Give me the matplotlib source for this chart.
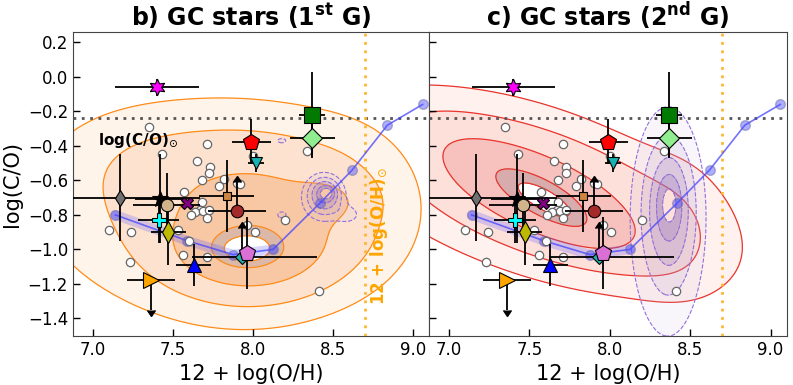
import numpy as np
import matplotlib
matplotlib.use("Agg")
import matplotlib.pyplot as plt
from matplotlib.colors import to_rgba

# ---------------- data ----------------
# open circles (GC / literature sample)
circ_x = [7.35, 7.43, 7.71, 7.65, 7.73, 7.725, 7.68, 7.79, 7.82, 7.90, 7.92, 7.57,
          7.68, 7.67, 7.64, 7.61, 7.69, 7.725, 7.71, 7.96, 8.01, 7.10, 7.24, 7.53,
          7.60, 7.56, 7.71, 8.20, 8.41, 7.23, 8.00, 8.34]
circ_y = [-0.29, -0.45, -0.39, -0.49, -0.52, -0.56, -0.60, -0.63, -0.59, -0.615, -0.62, -0.665,
          -0.725, -0.77, -0.785, -0.80, -0.775, -0.77, -0.82, -0.86, -0.90, -0.89, -0.90, -0.885,
          -0.95, -1.03, -1.045, -0.83, -1.24, -1.07, -0.46, -0.43]

# individual objects with error bars
obj_x = [7.40, 8.37, 8.37, 7.99, 8.02, 7.17, 7.42, 7.46, 7.585, 7.835, 7.90, 7.41, 7.47, 7.63, 7.93, 7.96, 7.36]
obj_y = [-0.06, -0.22, -0.355, -0.375, -0.50, -0.70, -0.705, -0.74, -0.73, -0.69, -0.78, -0.83, -0.90, -1.09, -1.045, -1.02, -1.18]
obj_xerr_lo = [0.26, 0.08, 0.14, 0.12, 0.05, 0.50, 0.16, 0.21, 0.0, 0.17, 0.18, 0.13, 0.11, 0.11, 0.31, 0.0, 0.15]
obj_xerr_hi = [0.26, 0.08, 0.14, 0.12, 0.05, 0.50, 0.16, 0.21, 0.0, 0.17, 0.18, 0.13, 0.11, 0.11, 0.47, 0.0, 0.15]
obj_yerr = [0.05, 0.25, 0.11, 0.13, 0.05, 0.25, 0.26, 0.18, 0.0, 0.21, 0.17, 0.13, 0.19, 0.12, 0.17, 0.21, 0.17]
obj_lim = ['', '', '', '', '', '', '', '', '', '', 'lo', '', '', '', 'lo', '', 'up']
obj_marker = [(6, 1, 0), 's', 'D', 'p', 'v', 'd', '*', 'o', 'X', 's', 'o', 'P', 'd', '^', 'D', 'p', '>']
obj_color = ['#ff00ff', '#007a00', '#90ee90', '#ff0000', '#16b3b3', '#707070', '#000000', '#d2b48c',
             '#800080', '#cd853f', '#a52a2a', '#00ffff', '#bdb800', '#0000ff', '#20b2aa', '#da70d6', '#ffa500']
obj_size = [12, 11, 10, 12, 9, 8, 12, 9, 9, 6, 9, 10, 11, 10, 7, 12, 11]

# chemical evolution model track
model_x = [7.14, 7.59, 7.875, 8.125, 8.42, 8.62, 8.84, 9.06]
model_y = [-0.80, -0.95, -1.03, -1.00, -0.73, -0.54, -0.28, -0.16]
model_band_n = 4

solar_co = -0.24
solar_oh = 8.70

# density components: (cx, cy, sigma_major, sigma_minor, angle_deg, weight)
dens_g1 = [(7.96, -1.00, 0.11, 0.055, 0, 1.0),
           (7.97, -1.00, 0.25, 0.13, 0, 0.6),
           (8.00, -0.84, 0.38, 0.27, 0, 0.4),
           (8.47, -0.72, 0.14, 0.08, 0, 0.2),
           (7.80, -0.76, 0.75, 0.40, 0, 0.2),
           (7.30, -0.50, 0.35, 0.20, 0, 0.06),
           (8.60, -0.72, 0.25, 0.28, 0, 0.06)]
lev_g1 = [0.07, 0.17, 0.42, 0.97, 1.42, 10]

dens_p1 = [(8.46, -0.675, 0.025, 0.02, 0, 1.0),
           (8.45, -0.68, 0.05, 0.05, 0, 0.5),
           (8.44, -0.70, 0.09, 0.09, 0, 0.3),
           (8.60, -0.80, 0.06, 0.04, 0, 0.12),
           (8.18, -0.37, 0.03, 0.015, 0, 0.14),
           (8.18, -0.80, 0.03, 0.02, 0, 0.14)]
lev_p1 = [0.1, 0.2, 0.35, 0.6, 1.0, 10]

dens_g2 = [(7.60, -0.72, 0.14, 0.045, -28, 1.0),
           (7.55, -0.68, 0.38, 0.12, -25, 0.6),
           (7.60, -0.68, 0.65, 0.25, -18, 0.35),
           (7.40, -0.62, 0.90, 0.34, -15, 0.12),
           (8.45, -0.85, 0.20, 0.30, 0, 0.05)]
lev_g2 = [0.09, 0.2, 0.45, 0.93, 1.42, 10]

dens_p2 = [(8.37, -0.74, 0.035, 0.08, 0, 1.0),
           (8.37, -0.76, 0.08, 0.20, 0, 0.6),
           (8.36, -0.85, 0.14, 0.40, 0, 0.3)]
lev_p2 = [0.08, 0.2, 0.4, 0.7, 1.3, 10]

# ---------------- helpers ----------------
gx = np.linspace(6.5, 9.3, 500)
gy = np.linspace(-1.9, 0.5, 500)
GX, GY = np.meshgrid(gx, gy)


def density(comps):
    Z = np.zeros_like(GX)
    for cx, cy, sa, sb, ang, w in comps:
        t = np.deg2rad(ang)
        dx, dy = GX - cx, GY - cy
        u = dx * np.cos(t) + dy * np.sin(t)
        v = -dx * np.sin(t) + dy * np.cos(t)
        Z += w * np.exp(-0.5 * ((u / sa) ** 2 + (v / sb) ** 2))
    return Z


def draw_density(ax, comps, levels, fills, line_color, ls, lw, z):
    Z = density(comps)
    ax.contourf(GX, GY, Z, levels=levels, colors=fills, zorder=z)
    ax.contour(GX, GY, Z, levels=levels[:-1], colors=line_color, linestyles=ls,
               linewidths=lw, zorder=z + 0.1)


plt.rcParams['font.family'] = ['DejaVu Sans']
fig = plt.figure(figsize=(7.93, 3.85), dpi=100)
ax1 = fig.add_axes([0.092, 0.128, 0.449, 0.789])
ax2 = fig.add_axes([0.541, 0.128, 0.451, 0.789], sharey=ax1)

orange_fills = ['#fff4ea', '#fde3cf', '#f8c8a5', '#dbb8a8', 'none']
red_fills = ['#fff1ee', '#fde0da', '#f7c2bd', '#d8acac', 'none']
purple_fills = [to_rgba('#c9b8e0', 0.12), to_rgba('#b9a3d6', 0.25), to_rgba('#a58ac8', 0.4),
                to_rgba('#9a7dc0', 0.55), 'none']

draw_density(ax1, dens_g1, lev_g1, orange_fills, '#ff8c1a', 'solid', 0.9, 1)
draw_density(ax1, dens_p1, lev_p1, purple_fills, '#9370db', 'dashed', 0.8, 2)
draw_density(ax2, dens_g2, lev_g2, red_fills, '#e8352e', 'solid', 0.9, 1)
draw_density(ax2, dens_p2, lev_p2, purple_fills, '#9370db', 'dashed', 0.8, 2)

for ax in (ax1, ax2):
    ax.axhline(solar_co, color='#555555', ls=(0, (1, 2)), lw=2, zorder=3)
    ax.axvline(solar_oh, color='#ffb732', ls=(0, (1, 2)), lw=2, zorder=3)
    ax.plot(model_x[:model_band_n], model_y[:model_band_n], color='#5a5aff', lw=7,
            alpha=0.25, solid_capstyle='round', zorder=4)
    ax.plot(model_x, model_y, color='#4444ff', lw=1.2, alpha=0.75, zorder=4)
    ax.plot(model_x, model_y, 'o', color='#4a4aff', ms=7, alpha=0.45, mec='#666699', zorder=4)
    ax.plot(circ_x, circ_y, 'o', ms=6, mfc='white', mec='#666666', mew=0.9, ls='none', zorder=5)
    for i in range(len(obj_x)):
        xe = [[obj_xerr_lo[i]], [obj_xerr_hi[i]]]
        if obj_lim[i] == '':
            ax.errorbar(obj_x[i], obj_y[i], xerr=xe, yerr=obj_yerr[i], fmt='none',
                        ecolor='black', elinewidth=1.3, capsize=0, zorder=6)
        else:
            ax.errorbar(obj_x[i], obj_y[i], xerr=xe, fmt='none',
                        ecolor='black', elinewidth=1.3, capsize=0, zorder=6)
            ax.errorbar(obj_x[i], obj_y[i], yerr=obj_yerr[i], fmt='none',
                        lolims=(obj_lim[i] == 'lo'), uplims=(obj_lim[i] == 'up'),
                        ecolor='black', color='black', elinewidth=1.3, capsize=3,
                        mfc='black', mec='black', zorder=6)
        ax.plot(obj_x[i], obj_y[i], marker=obj_marker[i], ms=obj_size[i], mfc=obj_color[i],
                mec='black', mew=0.8, ls='none', zorder=7)
    ax.set_xlim(6.875, 9.1)
    ax.set_ylim(-1.5, 0.26)
    ax.set_xticks([7.0, 7.5, 8.0, 8.5, 9.0])
    ax.set_yticks([0.2, 0.0, -0.2, -0.4, -0.6, -0.8, -1.0, -1.2, -1.4])
    ax.tick_params(direction='in', length=5, width=1, labelsize=12)
    ax.set_xlabel('12 + log(O/H)', fontsize=15)
    for s in ax.spines.values():
        s.set_color('#444444')

ax2.tick_params(labelleft=False)
ax1.set_ylabel('log(C/O)', fontsize=15)
ax1.set_title(r'b) GC stars (1$^{\mathbf{st}}$ G)', fontsize=17, fontweight='bold', pad=4)
ax2.set_title(r'c) GC stars (2$^{\mathbf{nd}}$ G)', fontsize=17, fontweight='bold', pad=4)

ax1.text(7.03, -0.37, r'log(C/O)$_{\odot}$', fontsize=11, fontweight='bold', va='center', zorder=8)
ax1.text(8.79, -0.92, r'12 + log(O/H)$_{\odot}$', fontsize=12, fontweight='bold', color='#ffa500',
         rotation=90, ha='center', va='center', zorder=8)

fig.savefig('out.png', dpi=100)
